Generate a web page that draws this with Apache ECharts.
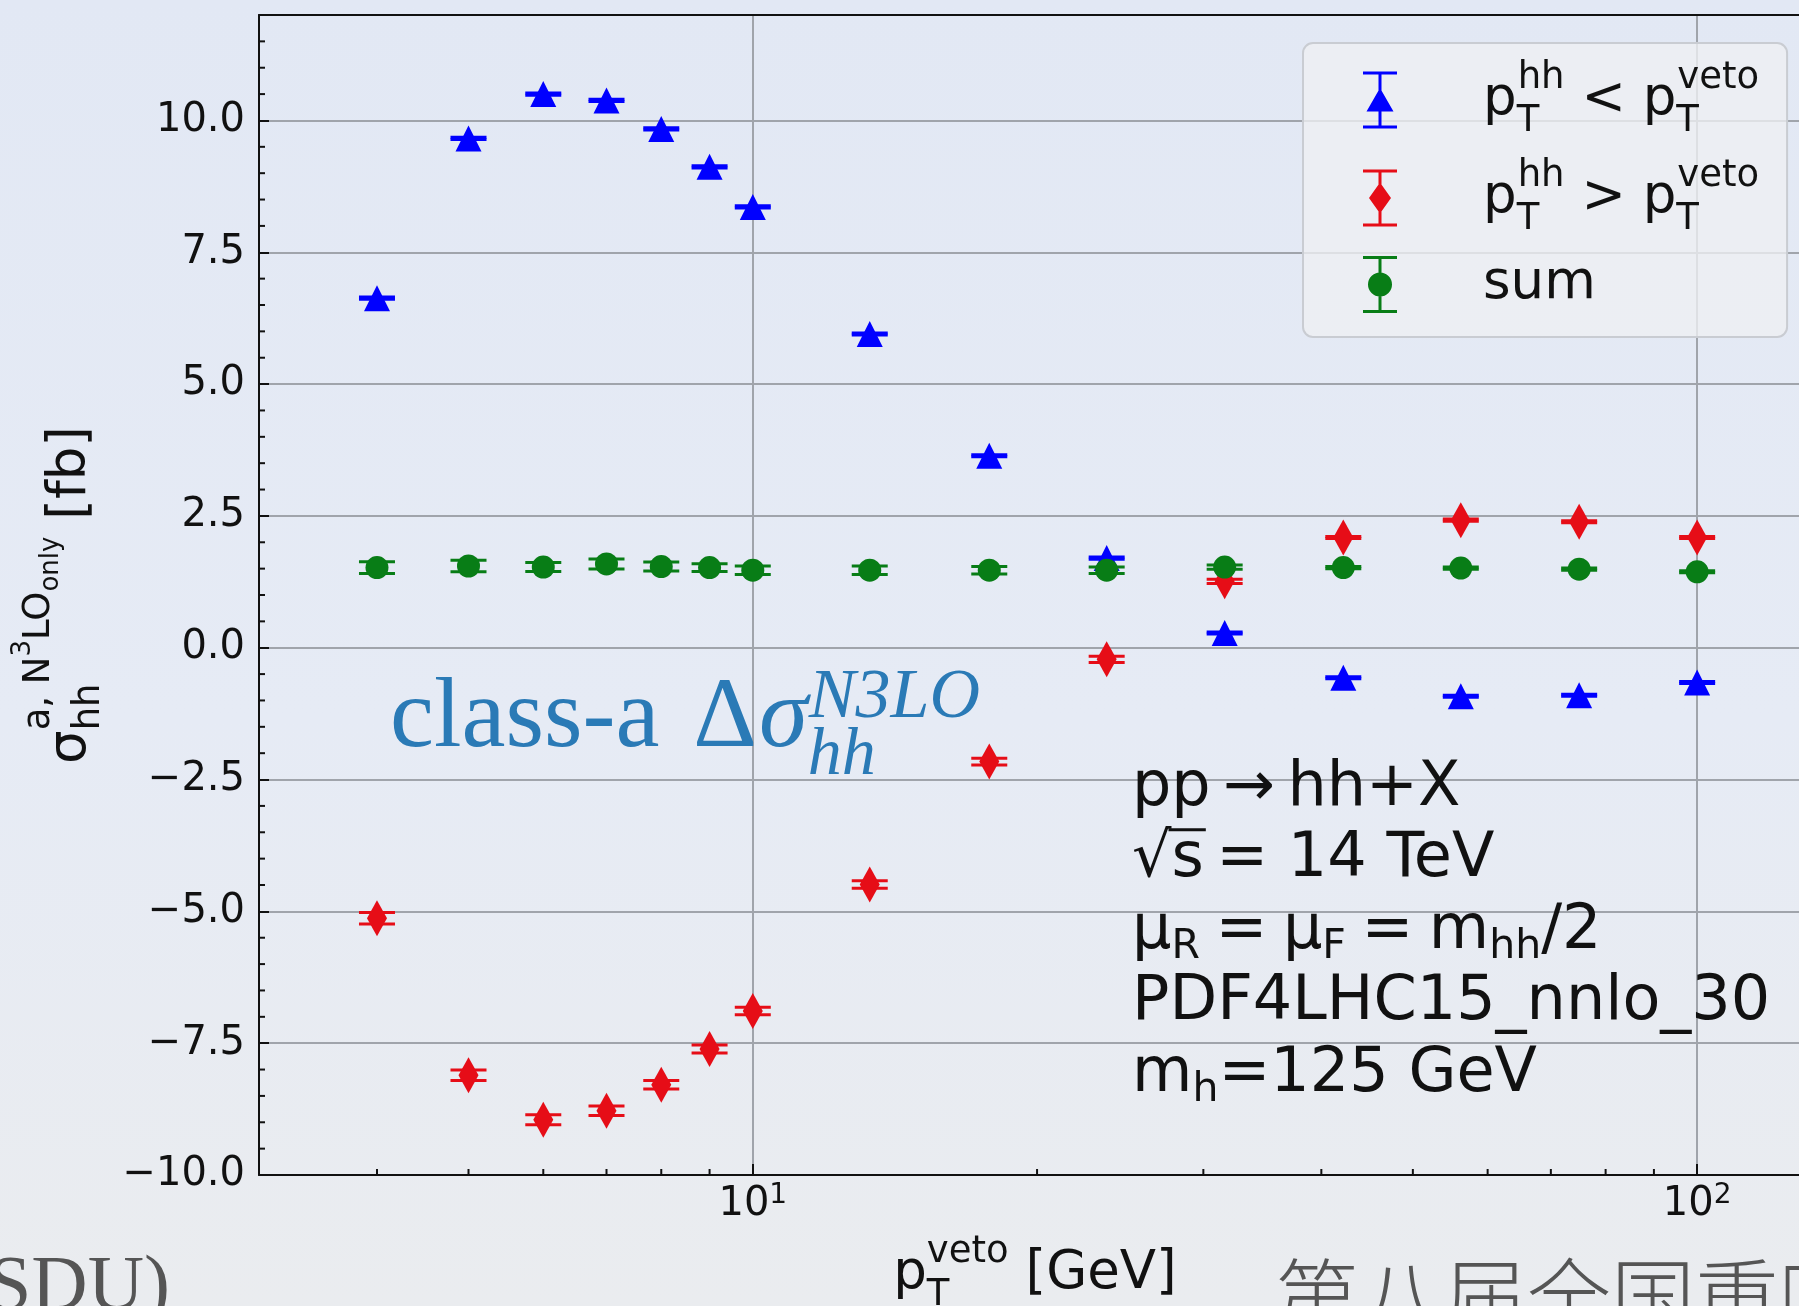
<!DOCTYPE html>
<html>
<head>
<meta charset="utf-8">
<title>class-a N3LO-only cross section vs pT veto</title>
<script src="https://cdn.jsdelivr.net/npm/echarts@6/dist/echarts.min.js"></script>
<style>
  html, body { margin: 0; padding: 0; }
  body { background: linear-gradient(180deg, #e2e8f4 0%, #e6ebf5 55%, #eaecef 100%); }
  #chart { width: 1799px; height: 1306px; }
</style>
</head>
<body>
<div id="chart"></div>
<script>
// pT veto values [GeV]
const ptVeto = [4, 5, 6, 7, 8, 9, 10, 13.3, 17.8, 23.7, 31.6, 42.2, 56.2, 75, 100];

// sigma_hh^{a, N3LO_only} [fb] for pT^hh < pT^veto
const sigmaBelow = [6.63, 9.66, 10.50, 10.38, 9.84, 9.12, 8.36, 5.95, 3.64, 1.70, 0.28, -0.57, -0.92, -0.90, -0.66];
const errBelow   = [0.02, 0.02, 0.02, 0.02, 0.02, 0.02, 0.02, 0.02, 0.02, 0.02, 0.02, 0.02, 0.02, 0.02, 0.02];

// pT^hh > pT^veto
const sigmaAbove = [-5.13, -8.11, -8.95, -8.78, -8.29, -7.61, -6.89, -4.49, -2.16, -0.22, 1.26, 2.09, 2.42, 2.39, 2.09];
const errAbove   = [0.11, 0.10, 0.095, 0.09, 0.08, 0.075, 0.07, 0.07, 0.065, 0.06, 0.04, 0.02, 0.02, 0.02, 0.02];

// sum of both
const sigmaSum = [1.52, 1.55, 1.53, 1.59, 1.54, 1.52, 1.47, 1.47, 1.47, 1.47, 1.53, 1.52, 1.51, 1.49, 1.44];
const errSum   = [0.11, 0.11, 0.085, 0.095, 0.085, 0.075, 0.08, 0.08, 0.07, 0.06, 0.04, 0.02, 0.02, 0.02, 0.02];

// axis ranges and minor tick positions
const X_MIN = 3, X_MAX = 132;
const Y_MIN = -10, Y_MAX = 12, Y_STEP = 2.5;
const xMinorTicks = [4, 5, 6, 7, 8, 9, 20, 30, 40, 50, 60, 70, 80, 90];
const yMinorTicks = [-9.5, -9, -8.5, -8, -7, -6.5, -6, -5.5, -4.5, -4, -3.5, -3, -2, -1.5, -1, -0.5,
                     0.5, 1, 1.5, 2, 3, 3.5, 4, 4.5, 5.5, 6, 6.5, 7, 8, 8.5, 9, 9.5, 10.5, 11, 11.5];

const BLUE = '#0000ff', RED = '#e60d17', GREEN = '#087d16', INK = '#111111';
const FONT = 'DejaVu Sans';

// text measurement for stacked sub/superscripts
const mctx = document.createElement('canvas').getContext('2d');
function textWidth(str, size) {
  mctx.font = size + 'px "DejaVu Sans"';
  return mctx.measureText(str).width;
}
const wSubT = textWidth('T', 37);
const wSubHH = textWidth('hh', 37);

const chart = echarts.init(document.getElementById('chart'), null, { renderer: 'canvas' });

// error bar: vertical stem with horizontal caps
function errorBars(id, values, errs, color, z) {
  return {
    id: id, name: id, type: 'custom', z: z, silent: true,
    encode: { x: 0, y: [1, 2] },
    data: ptVeto.map((x, i) => [x, values[i] - errs[i], values[i] + errs[i]]),
    renderItem: (params, api) => {
      const lo = api.coord([api.value(0), api.value(1)]);
      const hi = api.coord([api.value(0), api.value(2)]);
      const half = 18;
      const st = { stroke: color, lineWidth: 3 };
      return {
        type: 'group',
        children: [
          { type: 'line', shape: { x1: lo[0], y1: lo[1], x2: hi[0], y2: hi[1] }, style: st },
          { type: 'line', shape: { x1: lo[0] - half, y1: lo[1], x2: lo[0] + half, y2: lo[1] }, style: st },
          { type: 'line', shape: { x1: hi[0] - half, y1: hi[1], x2: hi[0] + half, y2: hi[1] }, style: st }
        ]
      };
    }
  };
}

// minor ticks pointing into the plot
function minorTicks(id, pts, dir) {
  return {
    id: id, type: 'custom', z: 6, silent: true,
    data: pts,
    renderItem: (params, api) => {
      const p = api.coord([api.value(0), api.value(1)]);
      const len = 6;
      const end = dir === 'x' ? [p[0], p[1] - len] : [p[0] + len, p[1]];
      return { type: 'line', shape: { x1: p[0], y1: p[1], x2: end[0], y2: end[1] },
               style: { stroke: INK, lineWidth: 2 } };
    }
  };
}

// legend icons: errorbar with marker
const capStem = 'M0 0H34V3H0Z M0 54H34V57H0Z M15.5 0H18.5V57H15.5Z ';
const iconBelow = 'path://' + capStem + 'M17 16.5L30.5 40H3.5Z';
const iconAbove = 'path://' + capStem + 'M17 13L28 28.5L17 44L6 28.5Z';
const iconSum   = 'path://' + capStem + 'M5 28.5A12 12 0 1 1 29 28.5A12 12 0 1 1 5 28.5Z';

const legendText = {
  below: '{lp|p}{sb|T}{sp|hh}{m| < p}{sb|T}{sp|veto}',
  above: '{lp|p}{sb|T}{sp|hh}{m| > p}{sb|T}{sp|veto}',
  sum: '{ls|sum}'
};

// sqrt overbar geometry for the info box
const infoFont = 62, infoX = 1132, infoTop = 753, infoLine = 71.5;
const wRoot = textWidth('√', infoFont);
const wRootS = textWidth('√s', infoFont);
const line2Baseline = infoTop + infoLine + infoLine / 2 + 0.297 * infoFont;

const option = {
  animation: false,
  backgroundColor: 'transparent',
  textStyle: { fontFamily: FONT },
  grid: { left: 259, top: 15, width: 1552, height: 1160, outerBoundsMode: 'none', containLabel: false },
  xAxis: [
    {
      type: 'log', logBase: 10, min: X_MIN, max: X_MAX, position: 'bottom',
      axisLine: { show: true, onZero: false, lineStyle: { color: INK, width: 2 } },
      axisTick: { show: true, inside: true, length: 11, lineStyle: { color: INK, width: 2 } },
      minorTick: { show: false },
      splitLine: { show: true, lineStyle: { color: '#a0a4ab', width: 2 } },
      axisLabel: {
        margin: 7, color: INK,
        formatter: v => {
          const e = Math.log10(v);
          if (Math.abs(e - Math.round(e)) > 1e-9) return '';
          return '{b|10}{s|' + Math.round(e) + '}';
        },
        rich: {
          b: { fontFamily: FONT, fontSize: 40, lineHeight: 46, color: INK },
          s: { fontFamily: FONT, fontSize: 28, lineHeight: 30, verticalAlign: 'top', color: INK }
        }
      },
      name: '{m|p}{sb|T}{sp|veto}{m| [GeV]}',
      nameLocation: 'middle', nameGap: 59, nameMoveOverlap: false,
      nameTextStyle: {
        rich: {
          m:  { fontFamily: FONT, fontSize: 53, lineHeight: 80, color: INK },
          sb: { fontFamily: FONT, fontSize: 37, verticalAlign: 'bottom', padding: [0, -wSubT, 0, 0], color: INK },
          sp: { fontFamily: FONT, fontSize: 37, verticalAlign: 'top', color: INK }
        }
      }
    },
    {
      type: 'log', logBase: 10, min: X_MIN, max: X_MAX, position: 'top', z: 10,
      axisLine: { show: true, onZero: false, lineStyle: { color: INK, width: 2 } },
      axisTick: { show: false }, axisLabel: { show: false }, splitLine: { show: false }
    }
  ],
  yAxis: {
    type: 'value', min: Y_MIN, max: Y_MAX, interval: Y_STEP,
    axisLine: { show: true, onZero: false, lineStyle: { color: INK, width: 2 } },
    axisTick: { show: true, inside: true, length: 10, lineStyle: { color: INK, width: 2 } },
    splitLine: { show: true, lineStyle: { color: '#a0a4ab', width: 2 } },
    axisLabel: {
      margin: 14, color: INK, fontFamily: FONT, fontSize: 40,
      formatter: v => {
        const k = v / Y_STEP;
        if (Math.abs(k - Math.round(k)) > 1e-6) return '';
        return (v < 0 ? '\u2212' : '') + Math.abs(v).toFixed(1);
      }
    },
    name: '{m|σ}{sb|hh}{sp|a, N}{ss|3}{sp|LO}{so|only}{m| [fb]}',
    nameLocation: 'middle', nameRotate: 90, nameGap: 123, nameMoveOverlap: false,
    nameTextStyle: {
      rich: {
        m:  { fontFamily: FONT, fontSize: 53, lineHeight: 130, color: INK },
        sb: { fontFamily: FONT, fontSize: 37, verticalAlign: 'bottom', padding: [0, -wSubHH, 28, 0], color: INK },
        sp: { fontFamily: FONT, fontSize: 37, verticalAlign: 'top', padding: [15, 0, 0, 0], color: INK },
        ss: { fontFamily: FONT, fontSize: 26, verticalAlign: 'top', padding: [4, 0, 0, 0], color: INK },
        so: { fontFamily: FONT, fontSize: 26, verticalAlign: 'top', padding: [32, 0, 0, 0], color: INK }
      }
    }
  },
  legend: {
    orient: 'vertical', left: 1303, top: 43,
    padding: [17, 28, 24, 60], itemGap: 18, itemWidth: 34, itemHeight: 57,
    backgroundColor: 'rgba(238,239,242,0.78)', borderColor: '#c9ccd2', borderWidth: 2, borderRadius: 10,
    selectedMode: false,
    data: [
      { name: 'below', icon: iconBelow },
      { name: 'above', icon: iconAbove },
      { name: 'sum', icon: iconSum }
    ],
    formatter: name => legendText[name],
    textStyle: {
      color: INK,
      rich: {
        lp: { fontFamily: FONT, fontSize: 53, lineHeight: 80, padding: [0, 0, 0, 81], color: INK },
        m:  { fontFamily: FONT, fontSize: 53, lineHeight: 80, color: INK },
        sb: { fontFamily: FONT, fontSize: 37, lineHeight: 38.6, verticalAlign: 'bottom', width: 1, align: 'left', color: INK },
        sp: { fontFamily: FONT, fontSize: 37, lineHeight: 53.4, verticalAlign: 'top', align: 'left', color: INK },
        ls: { fontFamily: FONT, fontSize: 53, lineHeight: 59, padding: [0, 0, 0, 81], color: INK }
      }
    }
  },
  series: [
    minorTicks('xminor', xMinorTicks.map(v => [v, Y_MIN]), 'x'),
    minorTicks('yminor', yMinorTicks.map(v => [X_MIN, v]), 'y'),
    errorBars('below-err', sigmaBelow, errBelow, BLUE, 3),
    { name: 'below', type: 'scatter', z: 4, symbol: 'triangle', symbolSize: 26,
      itemStyle: { color: BLUE, opacity: 1 }, data: ptVeto.map((x, i) => [x, sigmaBelow[i]]) },
    errorBars('above-err', sigmaAbove, errAbove, RED, 5),
    { name: 'above', type: 'scatter', z: 6, symbol: 'diamond', symbolSize: [20, 36],
      itemStyle: { color: RED, opacity: 1 }, data: ptVeto.map((x, i) => [x, sigmaAbove[i]]) },
    errorBars('sum-err', sigmaSum, errSum, GREEN, 7),
    { name: 'sum', type: 'scatter', z: 8, symbol: 'circle', symbolSize: 23,
      itemStyle: { color: GREEN, opacity: 1 }, data: ptVeto.map((x, i) => [x, sigmaSum[i]]) }
  ],
  graphic: [
    {
      type: 'text', x: 390, y: 650, z: 20, silent: true,
      style: {
        text: '{c|class-a}{d|Δ}{g|σ}{sb|hh}{sp|N3LO}',
        verticalAlign: 'top', align: 'left',
        rich: {
          c:  { fontFamily: 'Liberation Serif', fontSize: 99, lineHeight: 140, fill: '#2a7ab6' },
          d:  { fontFamily: 'Liberation Serif', fontSize: 99, lineHeight: 140, padding: [0, 2, 0, 34], fill: '#2a7ab6' },
          g:  { fontFamily: 'Liberation Serif', fontStyle: 'italic', fontSize: 99, lineHeight: 140, fill: '#2a7ab6' },
          sb: { fontFamily: 'Liberation Serif', fontStyle: 'italic', fontSize: 68, lineHeight: 60, verticalAlign: 'bottom', width: 1, align: 'left', fill: '#2a7ab6' },
          sp: { fontFamily: 'Liberation Serif', fontStyle: 'italic', fontSize: 70, verticalAlign: 'top', align: 'left', padding: [14, 0, 0, 0], fill: '#2a7ab6' }
        }
      }
    },
    {
      type: 'text', x: infoX, y: infoTop, z: 20, silent: true,
      style: {
        text: '{t|pp\u2009→\u2009hh+X}\n{t|√s\u2009= 14 TeV}\n{t|μ}{s|R}{t|\u2005=\u2005μ}{s|F}{t|\u2005=\u2005m}{s|hh}{t|/2}\n{t|PDF4LHC15_nnlo_30}\n{t|m}{s|h}{t|=125 GeV}',
        verticalAlign: 'top', align: 'left',
        rich: {
          t: { fontFamily: FONT, fontSize: infoFont, lineHeight: infoLine, fill: INK },
          s: { fontFamily: FONT, fontSize: 41, lineHeight: 38, verticalAlign: 'bottom', fill: INK }
        }
      }
    },
    {
      type: 'line', z: 20, silent: true,
      shape: { x1: infoX + wRoot - 3, y1: line2Baseline - 0.79 * infoFont,
               x2: infoX + wRootS + 2, y2: line2Baseline - 0.79 * infoFont },
      style: { stroke: INK, lineWidth: 3 }
    },
    {
      type: 'text', x: 170, y: 1250, z: 1, silent: true,
      style: { text: '(SDU)', align: 'right', verticalAlign: 'top',
               font: '78px "Liberation Serif"', fill: '#555555' }
    },
    {
      type: 'text', x: 1275, y: 1255, z: 1, silent: true,
      style: { text: '第八届全国重味', align: 'left', verticalAlign: 'top',
               font: '300 84px "Noto Sans CJK SC"', fill: '#555555' }
    }
  ]
};

chart.setOption(option);
</script>
</body>
</html>
